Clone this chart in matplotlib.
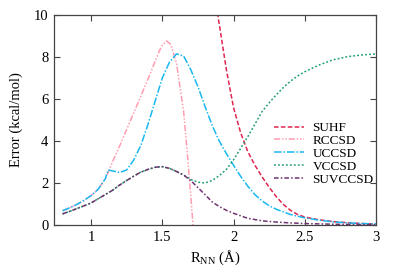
import matplotlib
matplotlib.use("Agg")
import matplotlib.pyplot as plt

# --- data (R_NN in angstrom, error in kcal/mol) ---
suhf_r = [1.87, 1.89, 1.95, 2.0, 2.05, 2.1, 2.15, 2.2, 2.25, 2.3, 2.35, 2.4, 2.45,
          2.5, 2.6, 2.7, 2.8, 2.9, 3.0]
suhf_e = [11.0, 10.0, 7.4, 5.6, 4.4, 3.5, 2.85, 2.3, 1.8, 1.35, 0.98, 0.7, 0.5,
          0.38, 0.25, 0.16, 0.11, 0.07, 0.05]

rccsd_r = [0.8, 0.85, 0.9, 0.95, 1.0, 1.05, 1.1, 1.12, 1.15, 1.2, 1.25, 1.3, 1.35,
           1.4, 1.45, 1.48, 1.5, 1.53, 1.56, 1.6, 1.65, 1.68, 1.7, 1.72]
rccsd_e = [0.68, 0.82, 0.98, 1.17, 1.4, 1.7, 2.2, 2.5, 3.0, 3.75, 4.55, 5.35, 6.15,
           6.95, 7.8, 8.3, 8.55, 8.77, 8.6, 7.7, 5.4, 3.1, 1.4, -0.4]

uccsd_r = [0.8, 0.85, 0.9, 0.95, 1.0, 1.05, 1.1, 1.12, 1.15, 1.2, 1.25, 1.3, 1.35,
           1.4, 1.45, 1.5, 1.55, 1.6, 1.65, 1.7, 1.75, 1.8, 1.85, 1.9, 1.95, 2.0,
           2.05, 2.1, 2.15, 2.2, 2.25, 2.3, 2.4, 2.5, 2.6, 2.7, 2.8, 2.9, 3.0]
uccsd_e = [0.68, 0.82, 0.98, 1.17, 1.4, 1.7, 2.2, 2.62, 2.58, 2.5, 2.62, 3.1, 3.8,
           4.8, 5.9, 7.0, 7.75, 8.15, 8.05, 7.4, 6.6, 5.65, 4.75, 4.0, 3.4, 2.85,
           2.32, 1.85, 1.45, 1.15, 0.92, 0.75, 0.5, 0.34, 0.23, 0.15, 0.1, 0.07, 0.05]

vccsd_r = [0.8, 0.85, 0.9, 0.95, 1.0, 1.05, 1.1, 1.15, 1.2, 1.25, 1.3, 1.35, 1.4,
           1.45, 1.5, 1.55, 1.6, 1.65, 1.7, 1.75, 1.8, 1.85, 1.9, 1.95, 2.0, 2.05,
           2.1, 2.15, 2.2, 2.25, 2.3, 2.35, 2.4, 2.45, 2.5, 2.6, 2.7, 2.8, 2.9, 3.0]
vccsd_e = [0.53, 0.65, 0.78, 0.91, 1.05, 1.25, 1.45, 1.65, 1.9, 2.12, 2.33, 2.52, 2.65,
           2.75, 2.78, 2.7, 2.55, 2.38, 2.17, 2.04, 2.0, 2.12, 2.35, 2.65, 3.1, 3.65,
           4.2, 4.8, 5.4, 5.82, 6.2, 6.55, 6.85, 7.1, 7.3, 7.62, 7.87, 8.02, 8.1, 8.15]

suvccsd_r = [0.8, 0.85, 0.9, 0.95, 1.0, 1.05, 1.1, 1.15, 1.2, 1.25, 1.3, 1.35, 1.4,
             1.45, 1.5, 1.55, 1.6, 1.65, 1.7, 1.75, 1.8, 1.85, 1.9, 1.95, 2.0, 2.1,
             2.2, 2.3, 2.4, 2.5, 2.75, 3.0]
suvccsd_e = [0.53, 0.65, 0.78, 0.91, 1.05, 1.25, 1.45, 1.65, 1.9, 2.12, 2.33, 2.52, 2.65,
             2.75, 2.78, 2.7, 2.55, 2.38, 2.12, 1.78, 1.45, 1.1, 0.88, 0.7, 0.56, 0.32,
             0.2, 0.14, 0.1, 0.07, 0.03, 0.01]

x_ticks = [1, 1.5, 2, 2.5, 3]
x_ticklabels = ["1", "1.5", "2", "2.5", "3"]
y_ticks = [0, 2, 4, 6, 8, 10]

plt.rcParams["font.family"] = ["Liberation Serif", "DejaVu Serif"]
plt.rcParams["mathtext.fontset"] = "custom"
plt.rcParams["mathtext.rm"] = "Liberation Serif"

fig = plt.figure(figsize=(3.99, 2.79), dpi=100)
ax = fig.add_axes([0.1353, 0.1935, 0.807, 0.7525])

lw = 1.1
ax.plot(suhf_r, suhf_e, color="#e0264f", lw=lw, dashes=(3, 1.5), label="SUHF")
ax.plot(rccsd_r, rccsd_e, color="#ff9db0", lw=lw,
        dashes=(4, 1.2, 1, 1.2, 1, 1.2), label="RCCSD")
ax.plot(uccsd_r, uccsd_e, color="#1ab8f0", lw=lw,
        dashes=(5, 1.2, 1, 1.2), label="UCCSD")
ax.plot(vccsd_r, vccsd_e, color="#1f9e6e", lw=lw, dashes=(1.2, 1.4), label="VCCSD")
ax.plot(suvccsd_r, suvccsd_e, color="#6e3370", lw=lw,
        dashes=(3, 1.4, 1, 1.4), label="SUVCCSD")

ax.set_xlim(0.74, 3.0)
ax.set_ylim(0, 10)
ax.set_xticks(x_ticks)
ax.set_xticklabels(x_ticklabels)
ax.set_yticks(y_ticks)
ax.tick_params(direction="in", top=True, right=True, length=4, width=0.8,
               labelsize=10.5, pad=4, color="#444444")
for s in ax.spines.values():
    s.set_linewidth(0.9)
    s.set_color("#444444")

ax.set_xlabel(r"R$_{\mathrm{NN}}$ (Å)", fontsize=10.5, labelpad=4)
ax.set_ylabel("Error (kcal/mol)", fontsize=10.5, labelpad=8)

ax.legend(loc="upper left", bbox_to_anchor=(0.655, 0.535), frameon=False,
          fontsize=9.5, handlelength=2.3, handletextpad=0.6, labelspacing=0.05,
          borderpad=0.2)

fig.savefig("out.png", dpi=100, facecolor="white")
